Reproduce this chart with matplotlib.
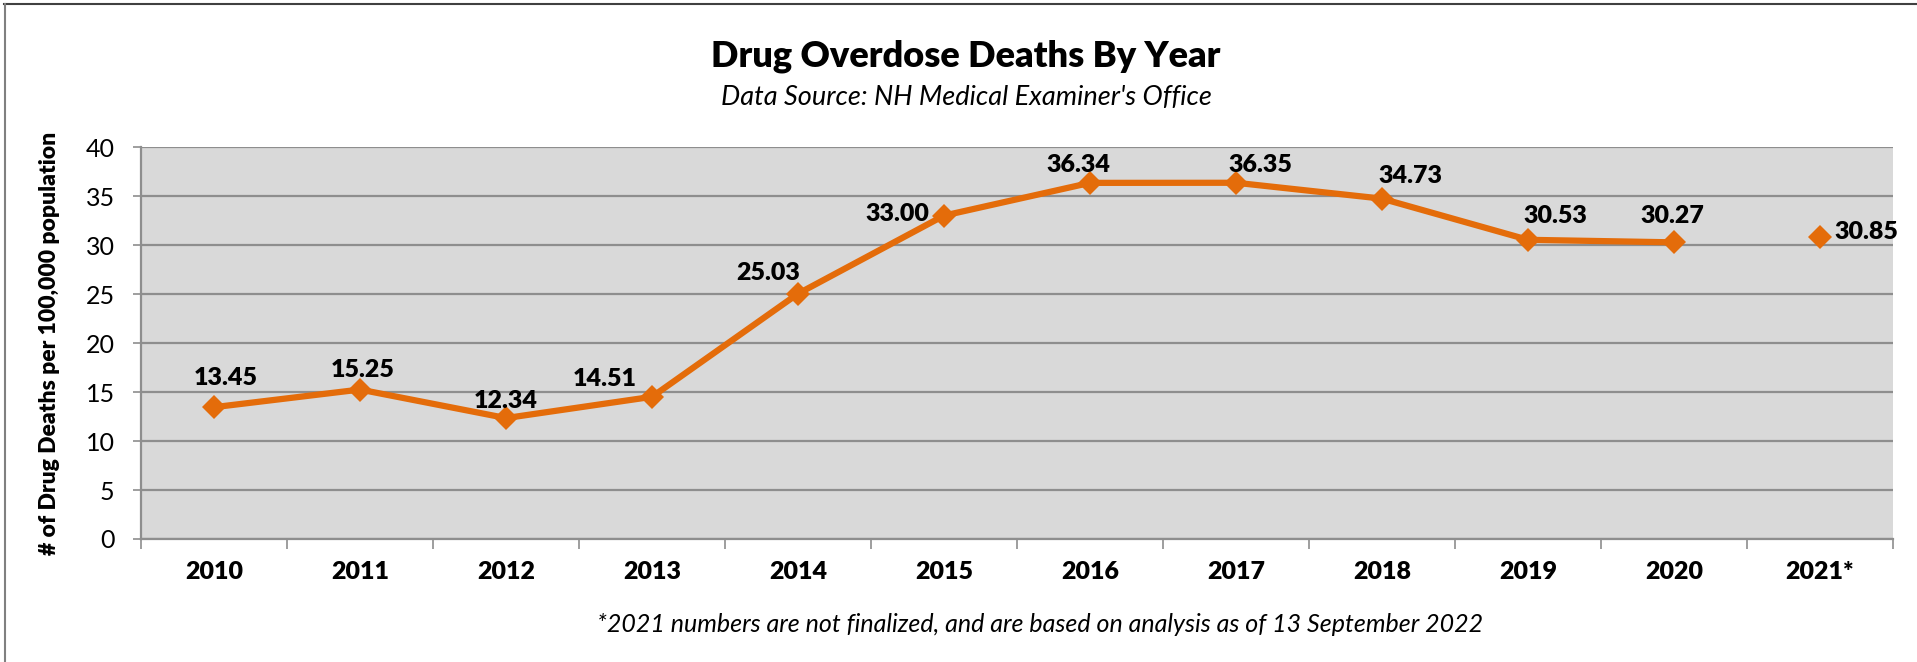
import matplotlib.pyplot as plt
from matplotlib.lines import Line2D

plt.rcParams['font.family'] = ['Lato', 'DejaVu Sans']

# data
years = ['2010', '2011', '2012', '2013', '2014', '2015', '2016', '2017',
         '2018', '2019', '2020', '2021*']
rates = [13.45, 15.25, 12.34, 14.51, 25.03, 33.00, 36.34, 36.35,
         34.73, 30.53, 30.27, 30.85]
n_final = 11  # 2021 is shown on its own, not joined to the line

# label offsets in pixels (dx, dy) from each point
label_offsets = [(12, 29), (3, 20), (0, 17), (-47, 18), (-30, 21), (-47, 2),
                 (-12, 18), (24, 18), (28, 23), (27, 24), (-2, 26), (14, 5)]

orange = '#E46C0A'
grid_gray = '#8E8E8E'

fig = plt.figure(figsize=(19.17, 6.62), dpi=100)
ax = fig.add_axes([141 / 1917, 1 - 539 / 662, 1752 / 1917, 392 / 662])
ax.set_facecolor('#D9D9D9')

x = list(range(len(years)))
ax.plot(x[:n_final], rates[:n_final], color=orange, lw=4.5, marker='D',
        ms=12, mew=0, zorder=3)
ax.plot(x[n_final:], rates[n_final:], color=orange, lw=0, marker='D',
        ms=12, mew=0, zorder=3)

for i, (xi, v) in enumerate(zip(x, rates)):
    dx, dy = label_offsets[i]
    ha = 'left' if i >= n_final else 'center'
    ax.annotate(f'{v:.2f}', (xi, v), xytext=(dx, dy), textcoords='offset pixels',
                ha=ha, va='center', fontsize=18, fontweight='heavy', zorder=4)

ax.set_xlim(-0.5, len(years) - 0.5)
ax.set_ylim(0, 40)
ax.set_yticks(range(0, 41, 5))
ax.yaxis.grid(True, color=grid_gray, lw=1.6)
ax.set_axisbelow(True)

ax.set_xticks(x)
ax.set_xticklabels(years, fontsize=18, fontweight='heavy')
ax.set_xticks([i - 0.5 for i in range(len(years) + 1)], minor=True)
ax.tick_params(axis='x', which='major', length=0, pad=16)
ax.tick_params(axis='x', which='minor', length=7, width=1.2, color=grid_gray)
ax.tick_params(axis='y', length=6, width=1.2, color=grid_gray, pad=13,
               labelsize=18)

for side in ['top', 'right']:
    ax.spines[side].set_visible(False)
for side in ['left', 'bottom']:
    ax.spines[side].set_color(grid_gray)
    ax.spines[side].set_linewidth(1.6)

ax.set_ylabel('# of Drug Deaths per 100,000 population', fontsize=16.5,
              fontweight='heavy')
ax.yaxis.set_label_coords(-0.046, 0.5)

fig.text(0.504, 1 - 56 / 662, 'Drug Overdose Deaths By Year', ha='center',
         va='center', fontsize=26, fontweight='heavy')
fig.text(0.504, 1 - 97 / 662, "Data Source: NH Medical Examiner's Office",
         ha='center', va='center', fontsize=19.5, style='italic')
fig.text(0.5424, 1 - 625 / 662,
         '*2021 numbers are not finalized, and are based on analysis as of 13 September 2022',
         ha='center', va='center', fontsize=18, style='italic')

# outer frame (top and left edges visible)
fig.add_artist(Line2D([4 / 1917, 1], [1 - 4 / 662, 1 - 4 / 662],
                      color='#404040', lw=1.5))
fig.add_artist(Line2D([5 / 1917, 5 / 1917], [0, 1 - 4 / 662],
                      color='#808080', lw=1.5))

plt.savefig('out.png', dpi=100)
